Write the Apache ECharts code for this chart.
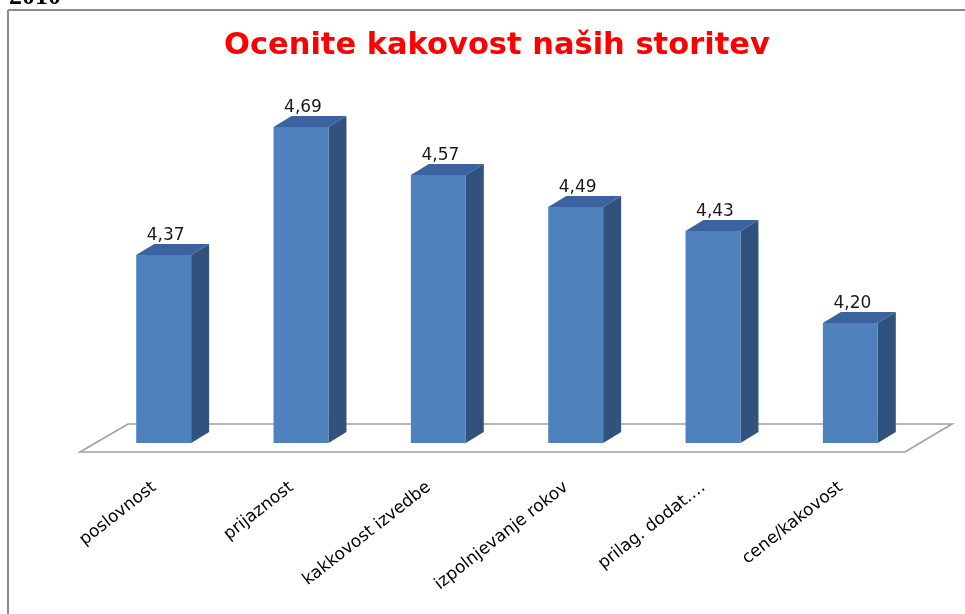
<!DOCTYPE html>
<html>
<head>
<meta charset="utf-8">
<script src="https://cdn.jsdelivr.net/npm/echarts@6/dist/echarts.min.js"></script>
<style>
  html, body { margin: 0; padding: 0; background: #fff; }
  #chart { width: 965px; height: 614px; }
</style>
</head>
<body>
<div id="chart"></div>
<script>
const categories = ['poslovnost', 'prijaznost', 'kakkovost izvedbe', 'izpolnjevanje rokov', 'prilag. dodat.…', 'cene/kakovost']
const scores = [4.37, 4.69, 4.57, 4.49, 4.43, 4.20]
const yMin = 3.9
const yMax = 4.8

const chart = echarts.init(document.getElementById('chart'))

// 3d-looking bar: front face, right side, top
const renderBar = (params, api) => {
  const top = api.coord([api.value(0), api.value(1)])
  const base = api.coord([api.value(0), yMin])
  const w = api.size([1, 0])[0] * 0.4
  const dx = 18
  const dy = 11
  const x0 = top[0] - w / 2
  const x1 = top[0] + w / 2
  const label = api.value(1).toFixed(2).replace('.', ',')
  return {
    type: 'group',
    children: [
      {
        type: 'polygon',
        shape: { points: [[x1, top[1]], [x1 + dx, top[1] - dy], [x1 + dx, base[1] - dy], [x1, base[1]]] },
        style: { fill: '#30527c' }
      },
      {
        type: 'polygon',
        shape: { points: [[x0, top[1]], [x0 + dx, top[1] - dy], [x1 + dx, top[1] - dy], [x1, top[1]]] },
        style: { fill: '#3b63a0' }
      },
      {
        type: 'rect',
        shape: { x: x0, y: top[1], width: w, height: base[1] - top[1] },
        style: { fill: '#4f81bd' }
      },
      {
        type: 'text',
        x: top[0] + 2,
        y: top[1] - dy,
        style: {
          text: label,
          fill: '#1a1a1a',
          font: '17px "DejaVu Sans"',
          textAlign: 'center',
          textVerticalAlign: 'bottom'
        }
      }
    ]
  }
}

// floor plane under the bars
const renderFloor = (params) => {
  const cs = params.coordSys
  const yb = cs.y + cs.height
  const xr = cs.x + cs.width
  return {
    type: 'polygon',
    shape: { points: [[cs.x - 15, yb + 9], [xr - 14, yb + 9], [xr + 33, yb - 19], [cs.x + 33, yb - 19]] },
    style: { fill: '#fff', stroke: '#a0a0a0', lineWidth: 1.6 }
  }
}

const option = {
  backgroundColor: '#fff',
  animation: false,
  title: [
    {
      text: 'Ocenite kakovost naših storitev',
      left: 219,
      top: 26,
      textStyle: { color: '#ff0000', fontFamily: 'DejaVu Sans', fontWeight: 'bold', fontSize: 30.5 }
    },
    {
      text: '2010',
      left: 4,
      top: -21,
      textStyle: { color: '#000', fontFamily: 'Liberation Serif', fontWeight: 'bold', fontSize: 26 }
    }
  ],
  graphic: [
    { type: 'line', shape: { x1: 8, y1: 10, x2: 965, y2: 10 }, style: { stroke: '#8a8a8a', lineWidth: 2 } },
    { type: 'line', shape: { x1: 8, y1: 10, x2: 8, y2: 614 }, style: { stroke: '#8a8a8a', lineWidth: 2 } }
  ],
  grid: { left: 95, right: 46, top: 83, bottom: 171 },
  xAxis: {
    type: 'category',
    data: categories,
    axisLine: { show: false },
    axisTick: { show: false },
    axisLabel: {
      rotate: 38,
      margin: 35,
      interval: 0,
      color: '#000',
      fontFamily: 'DejaVu Sans',
      fontSize: 17,
      padding: [0, 12, 0, 0]
    }
  },
  yAxis: {
    type: 'value',
    min: yMin,
    max: yMax,
    show: false,
    splitLine: { show: false }
  },
  series: [
    { type: 'custom', name: 'floor', data: [[0, yMin]], renderItem: renderFloor, z: 1, silent: true },
    { type: 'custom', name: 'ocena', data: scores.map((v, i) => [i, v]), renderItem: renderBar, z: 2 }
  ]
}

chart.setOption(option)
</script>
</body>
</html>
